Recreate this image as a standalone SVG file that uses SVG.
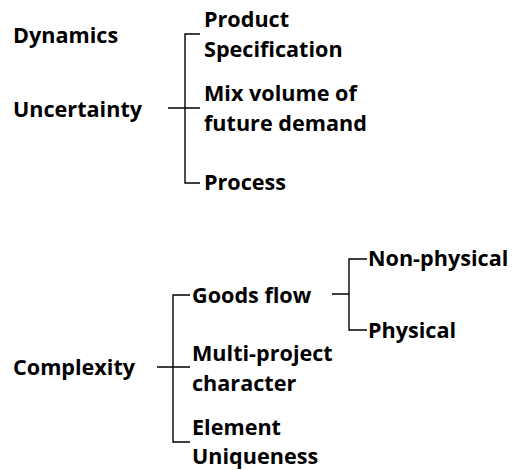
<svg xmlns="http://www.w3.org/2000/svg" width="512" height="470" viewBox="0 0 512 470">
  <style>
    text { font-family: "Open Sans", "Liberation Sans", sans-serif; font-weight: bold; font-size: 21.6px; fill: #000; }
    .wire { stroke: #000; stroke-width: 1.4; fill: none; }
  </style>
  <rect width="512" height="470" fill="#fff"/>

  <!-- connectors -->
  <g id="connectors">
    <!-- Uncertainty bracket -->
    <path class="wire" d="M168 108 H200 M200 34 H185 V183 H200"/>
    <!-- Complexity bracket -->
    <path class="wire" d="M157 367 H190 M190 295 H173 V442 H190"/>
    <!-- Goods flow bracket -->
    <path class="wire" d="M332 294 H349 M367 259 H349 V330 H367"/>
  </g>

  <g id="dynamics"><text x="13" y="43">Dynamics</text></g>
  <g id="uncertainty"><text x="13" y="117">Uncertainty</text></g>
  <g id="product-specification">
    <text x="204" y="27">Product</text>
    <text x="204" y="57">Specification</text>
  </g>
  <g id="mix-volume">
    <text x="204" y="101">Mix volume of</text>
    <text x="204" y="131">future demand</text>
  </g>
  <g id="process"><text x="204" y="190">Process</text></g>

  <g id="complexity"><text x="13" y="375">Complexity</text></g>
  <g id="goods-flow"><text x="192" y="303">Goods flow</text></g>
  <g id="non-physical"><text x="368" y="266">Non-physical</text></g>
  <g id="physical"><text x="368" y="338">Physical</text></g>
  <g id="multi-project">
    <text x="192" y="361">Multi-project</text>
    <text x="192" y="391">character</text>
  </g>
  <g id="element-uniqueness">
    <text x="192" y="435">Element</text>
    <text x="192" y="464">Uniqueness</text>
  </g>
</svg>
